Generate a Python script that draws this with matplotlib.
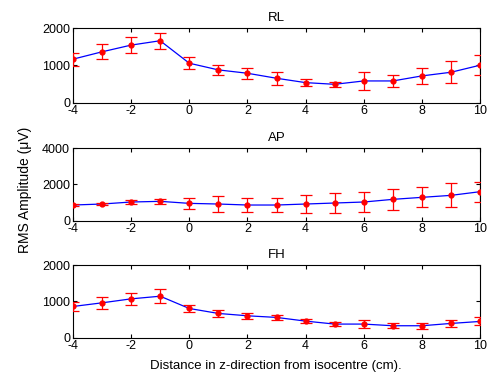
import numpy as np
import matplotlib
matplotlib.use("Agg")
import matplotlib.pyplot as plt

plt.rcParams['font.family'] = ['Liberation Sans', 'DejaVu Sans']
plt.rcParams['axes.unicode_minus'] = False

z = [-4, -3, -2, -1, 0, 1, 2, 3, 4, 5, 6, 7, 8, 9, 10]

rl_mean = [1166, 1363, 1543, 1660, 1058, 879, 789, 655, 538, 493, 583, 583, 718, 816, 1005]
rl_err = [170, 200, 210, 215, 160, 130, 150, 180, 100, 70, 240, 150, 225, 300, 265]

ap_mean = [866, 921, 1032, 1069, 958, 921, 866, 866, 921, 977, 1032, 1179, 1290, 1400, 1603]
ap_err = [60, 60, 100, 150, 300, 420, 400, 410, 480, 540, 550, 570, 545, 660, 550]

fh_mean = [862, 963, 1073, 1146, 807, 670, 605, 560, 458, 376, 376, 330, 330, 394, 449]
fh_err = [125, 160, 175, 200, 100, 90, 75, 60, 60, 45, 105, 75, 80, 90, 110]

titles = ["RL", "AP", "FH"]
ylims = [(0, 2000), (0, 4000), (0, 2000)]
yticks = [[0, 1000, 2000], [0, 2000, 4000], [0, 1000, 2000]]
means = [rl_mean, ap_mean, fh_mean]
errs = [rl_err, ap_err, fh_err]

fig = plt.figure(figsize=(4.96, 3.79), dpi=100)
bottoms = [0.729, 0.4177, 0.109]
heights = [0.197, 0.191, 0.191]

for i in range(3):
    ax = fig.add_axes([0.147, bottoms[i], 0.821, heights[i]])
    ax.plot(z, means[i], color='blue', lw=0.9, zorder=2)
    ax.errorbar(z, means[i], yerr=errs[i], fmt='o', color='red', ms=3.5,
                ecolor='red', elinewidth=0.9, capsize=4, capthick=0.9, zorder=3)
    ax.set_xlim(-4, 10)
    ax.set_ylim(*ylims[i])
    ax.set_xticks(range(-4, 11, 2))
    ax.set_yticks(yticks[i])
    ax.tick_params(direction='in', top=True, right=True, labelsize=9, length=3, pad=2)
    ax.set_title(titles[i], fontsize=9.5, pad=5)
    for s in ax.spines.values():
        s.set_linewidth(0.8)

fig.text(0.05, 0.5, "RMS Amplitude (\u03bcV)", rotation=90, ha='center', va='center', fontsize=10)
fig.text(0.557, 0.035, "Distance in z-direction from isocentre (cm).", ha='center', va='center', fontsize=9.5)

fig.savefig("out.png", dpi=100)
